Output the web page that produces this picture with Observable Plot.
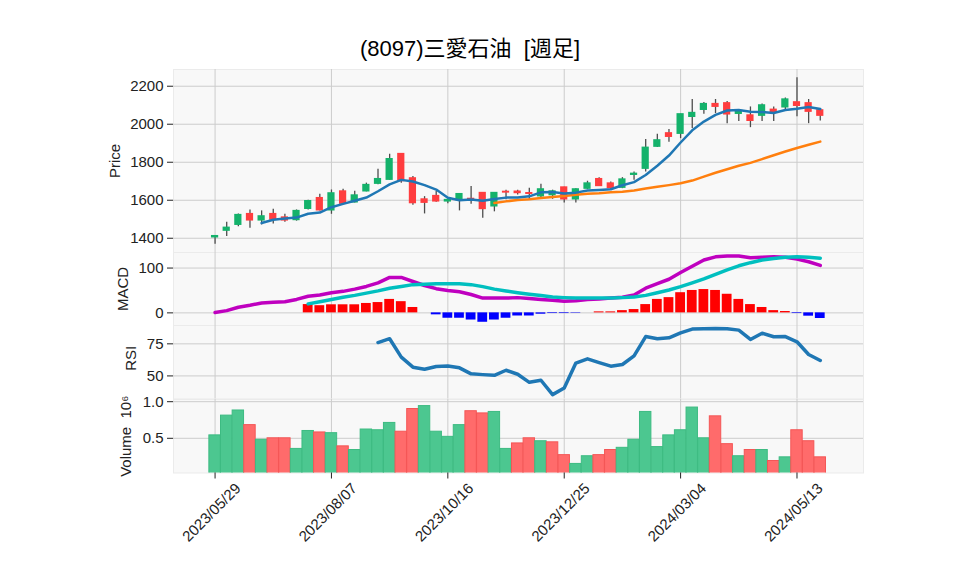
<!DOCTYPE html>
<html><head><meta charset="utf-8">
<script src="https://cdn.jsdelivr.net/npm/d3@7"></script>
<script src="https://cdn.jsdelivr.net/npm/@observablehq/plot@0.6"></script>
<style>
body{margin:0;background:#fff;}
#wrap{position:relative;width:958px;height:575px;overflow:hidden;font-family:"Liberation Sans","Noto Sans CJK JP",sans-serif;}
#title{position:absolute;left:0;width:940px;top:30px;text-align:center;font-size:22px;color:#000;white-space:pre;font-family:"Liberation Sans","Noto Sans CJK JP",sans-serif;}
#wrap svg{position:absolute;left:0;}
</style></head><body>
<div id="wrap"><div id="title">(8097)三愛石油  [週足]</div></div>
<script>
const weeks = ["2023-05-29","2023-06-05","2023-06-12","2023-06-19","2023-06-26","2023-07-03","2023-07-10","2023-07-17","2023-07-24","2023-07-31",
"2023-08-07","2023-08-14","2023-08-21","2023-08-28","2023-09-04","2023-09-11","2023-09-18","2023-09-25","2023-10-02","2023-10-09",
"2023-10-16","2023-10-23","2023-10-30","2023-11-06","2023-11-13","2023-11-20","2023-11-27","2023-12-04","2023-12-11","2023-12-18",
"2023-12-25","2024-01-01","2024-01-08","2024-01-15","2024-01-22","2024-01-29","2024-02-05","2024-02-12","2024-02-19","2024-02-26",
"2024-03-04","2024-03-11","2024-03-18","2024-03-25","2024-04-01","2024-04-08","2024-04-15","2024-04-22","2024-04-29","2024-05-06",
"2024-05-13","2024-05-20","2024-05-27"];
const open  = [1404,1439,1470,1528,1493,1528,1510,1495,1554,1612,1546,1647,1588,1646,1686,1707,1844,1716,1605,1623,1593,1600,1608,1639,1567,1645,1646,1638,1620,1626,1668,1604,1660,1712,1689,1665,1733,1765,1881,1953,1949,2038,2075,2107,2111,2054,2047,2044,2077,2088,2116,2111,2074];
const high  = [1415,1484,1528,1549,1544,1553,1526,1549,1600,1632,1654,1658,1647,1690,1763,1842,1844,1725,1619,1646,1607,1633,1672,1639,1640,1653,1653,1663,1684,1653,1668,1661,1700,1719,1696,1719,1749,1919,1947,1972,2053,2130,2114,2130,2119,2074,2091,2107,2091,2138,2245,2130,2074];
const low   = [1368,1409,1461,1453,1470,1475,1484,1490,1549,1544,1526,1578,1585,1644,1681,1705,1690,1574,1528,1590,1581,1544,1579,1505,1539,1602,1628,1602,1614,1605,1586,1586,1656,1674,1656,1661,1705,1749,1877,1905,1924,1977,2053,2056,2003,2014,1982,2014,2014,2077,2039,2003,2017];
const close = [1412,1456,1523,1493,1516,1497,1493,1544,1596,1546,1637,1581,1626,1681,1712,1817,1700,1584,1586,1593,1602,1633,1604,1553,1639,1640,1637,1633,1658,1647,1604,1658,1689,1674,1663,1710,1740,1877,1916,1933,2053,2060,2107,2091,2051,2065,2017,2100,2063,2131,2096,2065,2044];
// volume in millions of shares
const volume = [0.54,0.81,0.88,0.68,0.48,0.50,0.50,0.355,0.60,0.58,0.57,0.39,0.34,0.62,0.61,0.71,0.59,0.90,0.94,0.59,0.52,0.68,0.87,0.84,0.86,0.355,0.43,0.50,0.46,0.445,0.27,0.15,0.255,0.27,0.34,0.37,0.48,0.86,0.38,0.54,0.61,0.92,0.50,0.80,0.42,0.255,0.34,0.34,0.19,0.24,0.61,0.46,0.24];
const macd = [1,5,12.6,17,22,23.7,25,30,37,40,45,48,53,59,67,79,79,70,61,54,50,47,41,33,33,33,34,32,30,28,26,27,30,31,33,35,40,55,65,75,90,104,118,125,127,127,123,124,125,124,120,114,106];
const signal = [null,null,null,null,null,null,null,null,20,25,30,35,39,44,49,55,59,63,64,65,65,65,63,58.5,53,49,45,41.5,38.5,35.5,34,33,33,33,33,34,35.5,39,45,51,58.5,67,76,86,96,105,112,118,121.5,124,125,124,122];
const hist = [null,null,null,null,null,null,null,null,18.5,16,18,18,18,21,23,30,25,12,0,-4.4,-12,-12,-16,-21,-16,-12,-7,-7,-3,-1.5,-1.5,-1,0,2.2,2.2,5,7.4,18.5,30,34,45,50,52,50,41.5,30,18.5,12,5,3,-1.5,-7.4,-12.6];
const rsi = [null,null,null,null,null,null,null,null,null,null,null,null,null,null,76,79,64.6,56.8,55.2,57.3,57.8,56.3,51.6,51,50.5,54.4,51.3,45,46.6,35.4,40.6,60,63.3,60.4,57.6,58.9,65.6,80.7,79,79.7,83.6,86.5,86.7,87,86.7,85.7,78.4,83.3,80.5,80.7,76.6,66.7,62];
const tickLabels = ["2023/05/29","2023/08/07","2023/10/16","2023/12/25","2024/03/04","2024/05/13"];
const priceTicks = [1400,1600,1800,2000,2200];
const macdTicks = [0,100];
const rsiTicks = [50,75];
const volTicks = [0.5,1.0];

const parse = d3.utcParse("%Y-%m-%d");
const WEEK = 7*864e5;
const rows = weeks.map((w,i)=>({
  date: parse(w), open: open[i], high: high[i], low: low[i], close: close[i], vol: volume[i],
  up: close[i] >= open[i], vup: i === 0 || close[i] >= close[i-1],
  macd: macd[i], signal: signal[i], hist: hist[i], rsi: rsi[i]
}));
const ticks = tickLabels.map(s => ({date: d3.utcParse("%Y/%m/%d")(s), label: s}));
const tickDates = ticks.map(t => t.date);
const d0 = rows[0].date;
const xDomain = [d3.utcDay.offset(d0, -25), d3.utcDay.offset(d0, 390)];
const FONT = '"Liberation Sans","Noto Sans CJK JP",sans-serif';
const GREEN = "#14b26b", RED = "#ff3d3f";
const wrap = document.getElementById("wrap");

function panel(top, height, yDomain, yTicks, label, labelDx, marks, extra = {}) {
  const chart = Plot.plot({
    width: 958, height, marginLeft: 173, marginRight: 95, marginTop: 0, marginBottom: extra.marginBottom || 0,
    x: {type: "utc", domain: xDomain, axis: null},
    y: {domain: yDomain, axis: null},
    style: {fontFamily: FONT, fontSize: "15px", color: "#222", background: "transparent", overflow: "visible"},
    marks: [
      Plot.frame({fill: "#f8f8f8", stroke: "#ebebeb"}),
      Plot.gridY(yTicks, {stroke: "#cccccc", strokeOpacity: 1, strokeWidth: 1}),
      Plot.gridX(tickDates, {stroke: "#cccccc", strokeOpacity: 1, strokeWidth: 1}),
      Plot.axisY(yTicks, {tickSize: 6, tickPadding: 4, label: null, tickFormat: extra.tickFormat || (d => String(d)), fontSize: 15}),
      ...marks,
      Plot.text([label], {frameAnchor: "left", textAnchor: "middle", dx: labelDx, dy: extra.labelDy || 0, rotate: -90, fontSize: 15, fill: "#222", text: d => d})
    ]
  });
  chart.style.top = top + "px";
  wrap.appendChild(chart);
}

// Price panel
panel(69, 183, [1325, 2288], priceTicks, "Price", -58, [
  Plot.ruleX(rows, {x: "date", y1: "low", y2: "high", stroke: "#4d4d4d", strokeWidth: 1.3}),
  Plot.rect(rows, {x1: d => new Date(+d.date - 0.31*WEEK), x2: d => new Date(+d.date + 0.31*WEEK),
    y1: "open", y2: "close", fill: d => d.up ? GREEN : RED, insetTop: -0.5, insetBottom: -0.5}),
  Plot.lineY(rows, Plot.windowY({k: 25, anchor: "end", strict: true}, {x: "date", y: "close", stroke: "#ff7f0e", strokeWidth: 2.5})),
  Plot.lineY(rows, Plot.windowY({k: 5, anchor: "end", strict: true}, {x: "date", y: "close", stroke: "#1f77b4", strokeWidth: 2.5}))
]);

// MACD panel
panel(252, 73, [-28.2, 134.7], macdTicks, "MACD", -50, [
  Plot.rect(rows.filter(d => d.hist != null), {x1: d => new Date(+d.date - 0.42*WEEK), x2: d => new Date(+d.date + 0.42*WEEK),
    y1: 0, y2: "hist", fill: d => d.hist >= 0 ? "#ff0000" : "#0000ff"}),
  Plot.lineY(rows, {x: "date", y: "macd", stroke: "#bf00bf", strokeWidth: 3.5}),
  Plot.lineY(rows, {x: "date", y: "signal", stroke: "#00bfbf", strokeWidth: 3.5})
]);

// RSI panel
panel(325, 73.5, [32, 89.3], rsiTicks, "RSI", -42, [
  Plot.lineY(rows, {x: "date", y: "rsi", stroke: "#1f77b4", strokeWidth: 3.5})
], {labelDy: -4});

// Volume panel with x axis
panel(398.5, 176.5, [0.026, 1.03], volTicks, "Volume  10⁶", -47, [
  Plot.rect(rows, {x1: d => new Date(+d.date - 0.49*WEEK), x2: d => new Date(+d.date + 0.49*WEEK),
    y1: 0, y2: "vol", fill: d => d.vup ? "#4cc790" : "#ff6b6b", stroke: d => d.vup ? "#3dbb82" : "#f45656", strokeWidth: 1, clip: true}),
  Plot.axisX(tickDates, {tickSize: 6, tickFormat: () => "", label: null}),
  Plot.text(ticks, {x: "date", text: "label", frameAnchor: "bottom", dy: 43, rotate: -45, textAnchor: "middle", fontSize: 15, fill: "#222"})
], {marginBottom: 103, tickFormat: d => d.toFixed(1)});
</script>
</body></html>
